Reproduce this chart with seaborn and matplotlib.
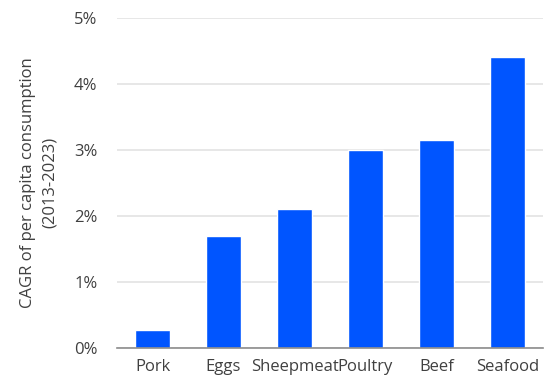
import matplotlib
matplotlib.use("Agg")
import matplotlib.pyplot as plt
import seaborn as sns
import pandas as pd
from matplotlib.ticker import FuncFormatter

categories = ["Pork", "Eggs", "Sheepmeat", "Poultry", "Beef", "Seafood"]
cagr_pct = [0.27, 1.70, 2.10, 3.00, 3.15, 4.40]
y_ticks = [0, 1, 2, 3, 4, 5]

sns.set_theme(style="white")
plt.rcParams["font.family"] = ["Open Sans", "DejaVu Sans"]

df = pd.DataFrame({"category": categories, "cagr": cagr_pct})

fig = plt.figure(figsize=(5.53, 3.81), dpi=100)
ax = fig.add_axes([0.2116, 0.0866, 0.7704, 0.8674])

sns.barplot(data=df, x="category", y="cagr", hue="category",
            palette=["#0055FF"] * len(categories), legend=False,
            width=0.5, saturation=1, ax=ax)

ax.set_ylim(0, 5)
ax.set_xlim(-0.5, len(categories) - 0.5)
ax.set_yticks(y_ticks)
ax.yaxis.set_major_formatter(FuncFormatter(lambda v, _: f"{v:.0f}%"))
ax.grid(axis="y", color="#e3e3e3", linewidth=1.2)
ax.set_axisbelow(True)

for side in ["top", "right", "left"]:
    ax.spines[side].set_visible(False)
ax.spines["bottom"].set_color("#8c8c8c")
ax.spines["bottom"].set_linewidth(1.2)

text_color = "#404040"
fs = 12
ax.tick_params(axis="y", length=0, pad=14, labelsize=fs, labelcolor=text_color)
ax.tick_params(axis="x", length=0, pad=8, labelsize=fs, labelcolor=text_color)
ax.set_xlabel("")
ax.set_ylabel("CAGR of per capita consumption\n(2013-2023)", fontsize=fs,
              color=text_color, labelpad=12, linespacing=1.45)

fig.savefig("out.png", dpi=100)
